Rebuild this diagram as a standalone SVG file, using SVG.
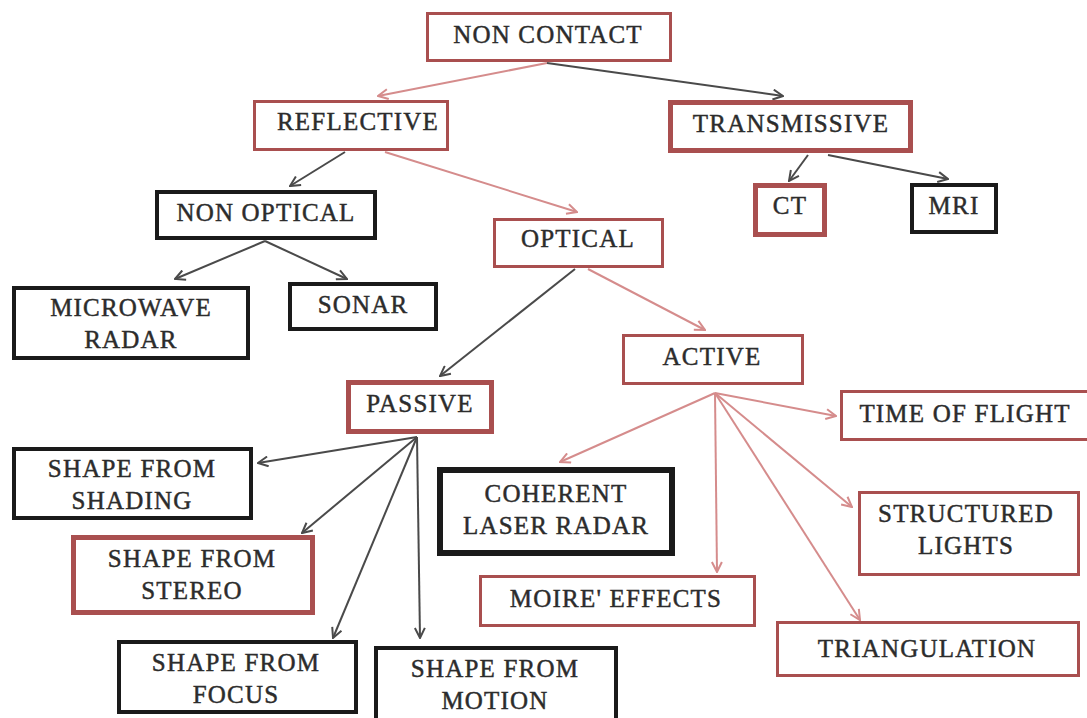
<svg xmlns="http://www.w3.org/2000/svg" width="1087" height="718" viewBox="0 0 1087 718">
<style>
.r{fill:#fff;stroke:#a94f4f}
.k{fill:#fff;stroke:#1a1a1a}
text{font-family:"Liberation Serif","Times New Roman",serif;font-size:25px;letter-spacing:1.2px;fill:#2c2c2c;stroke:#2c2c2c;stroke-width:0.45;text-anchor:middle}
.cd{stroke:#4a4a4a;stroke-width:2;fill:none;marker-end:url(#ad)}
.cp{stroke:#d58c8c;stroke-width:2;fill:none;marker-end:url(#ap)}
</style>
<defs>
<marker id="ad" viewBox="0 0 12 12" refX="11" refY="6" markerWidth="12" markerHeight="12" markerUnits="userSpaceOnUse" orient="auto"><path d="M1,1 L11,6 L1,11" fill="none" stroke="#4a4a4a" stroke-width="2"/></marker>
<marker id="ap" viewBox="0 0 12 12" refX="11" refY="6" markerWidth="12" markerHeight="12" markerUnits="userSpaceOnUse" orient="auto"><path d="M1,1 L11,6 L1,11" fill="none" stroke="#d58c8c" stroke-width="2"/></marker>
</defs>
<rect width="1087" height="718" fill="#fff"/>
<g id="connectors">
<line class="cp" x1="547" y1="63" x2="378" y2="96"/>
<line class="cd" x1="547" y1="63" x2="783" y2="96"/>
<line class="cd" x1="345" y1="152" x2="290" y2="186"/>
<line class="cp" x1="385" y1="152" x2="577" y2="212"/>
<line class="cd" x1="808" y1="155" x2="789" y2="181"/>
<line class="cd" x1="828" y1="155" x2="948" y2="179"/>
<line class="cd" x1="265" y1="241" x2="175" y2="279"/>
<line class="cd" x1="265" y1="241" x2="347" y2="279"/>
<line class="cd" x1="575" y1="269" x2="440" y2="376"/>
<line class="cp" x1="588" y1="269" x2="705" y2="330"/>
<line class="cd" x1="417" y1="437" x2="258" y2="463"/>
<line class="cd" x1="417" y1="437" x2="302" y2="533"/>
<line class="cd" x1="417" y1="437" x2="333" y2="638"/>
<line class="cd" x1="417" y1="437" x2="420" y2="638"/>
<line class="cp" x1="715" y1="393" x2="560" y2="462"/>
<line class="cp" x1="715" y1="393" x2="717" y2="572"/>
<line class="cp" x1="715" y1="393" x2="836" y2="416"/>
<line class="cp" x1="715" y1="393" x2="852" y2="507"/>
<line class="cp" x1="715" y1="393" x2="860" y2="620"/>
</g>
<g id="n-noncontact"><rect class="r" x="427.5" y="13.5" width="243" height="47" stroke-width="3"/><text x="548" y="43">NON CONTACT</text></g>
<g id="n-reflective"><rect class="r" x="254.5" y="101.5" width="193" height="48" stroke-width="3"/><text x="358" y="130">REFLECTIVE</text></g>
<g id="n-transmissive"><rect class="r" x="670.5" y="102.5" width="240" height="48" stroke-width="5"/><text x="791" y="132">TRANSMISSIVE</text></g>
<g id="n-nonoptical"><rect class="k" x="157" y="192" width="218" height="46" stroke-width="4"/><text x="266" y="221">NON OPTICAL</text></g>
<g id="n-ct"><rect class="r" x="755.5" y="185.5" width="69" height="49" stroke-width="5"/><text x="790" y="214">CT</text></g>
<g id="n-mri"><rect class="k" x="912" y="185" width="84" height="47" stroke-width="4"/><text x="954" y="214">MRI</text></g>
<g id="n-optical"><rect class="r" x="494.5" y="219.5" width="168" height="47" stroke-width="3"/><text x="578" y="247">OPTICAL</text></g>
<g id="n-microwave"><rect class="k" x="14" y="288" width="234" height="70" stroke-width="4"/><text x="131" y="316">MICROWAVE</text><text x="131" y="348">RADAR</text></g>
<g id="n-sonar"><rect class="k" x="290" y="284" width="146" height="45" stroke-width="4"/><text x="363" y="313">SONAR</text></g>
<g id="n-active"><rect class="r" x="623.5" y="335.5" width="179" height="48" stroke-width="3"/><text x="712" y="365">ACTIVE</text></g>
<g id="n-passive"><rect class="r" x="348.5" y="382.5" width="143" height="49" stroke-width="5"/><text x="420" y="412">PASSIVE</text></g>
<g id="n-tof"><rect class="r" x="841.5" y="391.5" width="250" height="48" stroke-width="3"/><text x="965" y="422">TIME OF FLIGHT</text></g>
<g id="n-shading"><rect class="k" x="14" y="449" width="237" height="69" stroke-width="4"/><text x="132" y="477">SHAPE FROM</text><text x="132" y="509">SHADING</text></g>
<g id="n-coherent"><rect class="k" x="440" y="470" width="232" height="83" stroke-width="6"/><text x="556" y="502">COHERENT</text><text x="556" y="534">LASER RADAR</text></g>
<g id="n-structured"><rect class="r" x="859.5" y="492.5" width="219" height="82" stroke-width="3"/><text x="966" y="522">STRUCTURED</text><text x="966" y="554">LIGHTS</text></g>
<g id="n-stereo"><rect class="r" x="73.5" y="537.5" width="239" height="75" stroke-width="5"/><text x="192" y="567">SHAPE FROM</text><text x="192" y="599">STEREO</text></g>
<g id="n-moire"><rect class="r" x="480.5" y="576.5" width="274" height="49" stroke-width="3"/><text x="616" y="607">MOIRE' EFFECTS</text></g>
<g id="n-triangulation"><rect class="r" x="777.5" y="622.5" width="301" height="53" stroke-width="3"/><text x="927" y="657">TRIANGULATION</text></g>
<g id="n-focus"><rect class="k" x="119" y="642" width="237" height="70" stroke-width="4"/><text x="236" y="671">SHAPE FROM</text><text x="236" y="703">FOCUS</text></g>
<g id="n-motion"><rect class="k" x="376" y="648" width="240" height="74" stroke-width="4"/><text x="495" y="677">SHAPE FROM</text><text x="495" y="709">MOTION</text></g>
</svg>
